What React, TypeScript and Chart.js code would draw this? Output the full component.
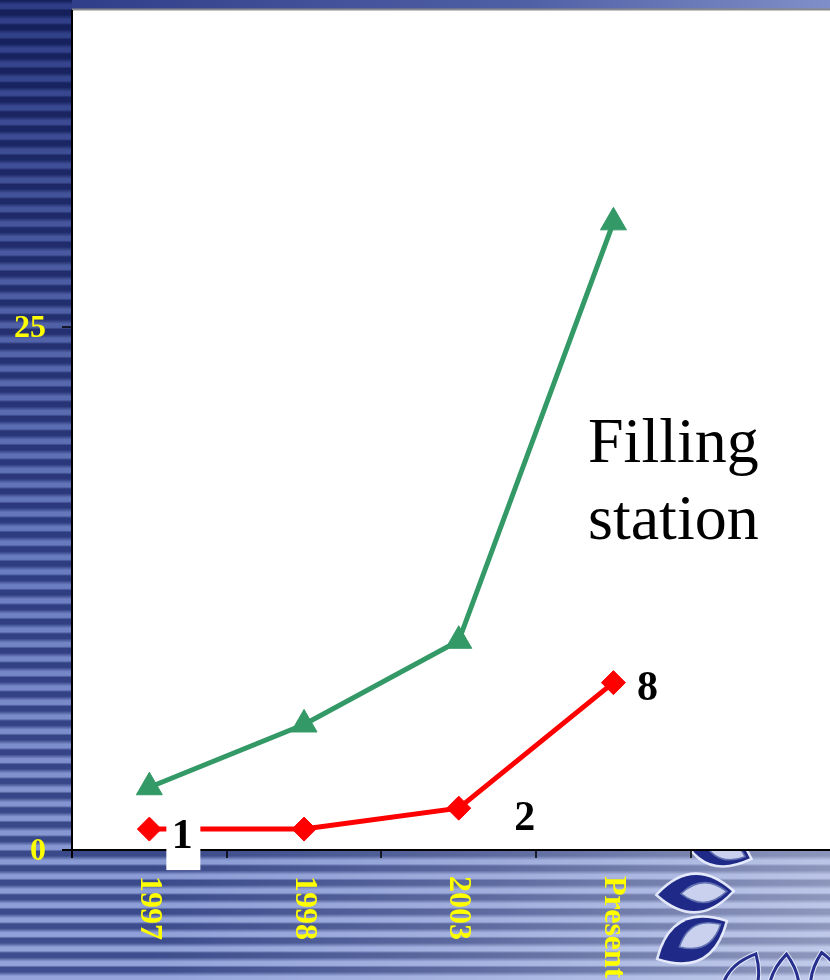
import React, { useEffect, useRef } from "react";
import { Chart, registerables } from "chart.js";

Chart.register(...registerables);

const categories = ["1997", "1998", "2003", "Present"];
const greenValues = [3, 6, 10, 30];
const redValues = [1, 1, 2, 8];
const redLabels = ["1", "", "2", "8"];
const yTicks = [0, 25];
const noteLines = ["Filling", "station"];

type RGB = [number, number, number];
const darkStops: [number, RGB][] = [
  [0, [20, 31, 90]],
  [560, [46, 60, 128]],
  [980, [62, 78, 142]],
];
const lightStops: [number, RGB][] = [
  [0, [46, 61, 134]],
  [560, [106, 124, 192]],
  [980, [150, 166, 220]],
];
function interp(stops: [number, RGB][], y: number): string {
  let a = stops[0];
  let b = stops[stops.length - 1];
  for (let i = 0; i < stops.length - 1; i++) {
    if (y >= stops[i][0] && y <= stops[i + 1][0]) {
      a = stops[i];
      b = stops[i + 1];
      break;
    }
  }
  const t = b[0] === a[0] ? 0 : Math.min(1, Math.max(0, (y - a[0]) / (b[0] - a[0])));
  const c = a[1].map((v, k) => Math.round(v + (b[1][k] - v) * t));
  return `rgb(${c[0]},${c[1]},${c[2]})`;
}

function lensPath(ctx: CanvasRenderingContext2D, w: number, h: number) {
  ctx.beginPath();
  ctx.moveTo(-w / 2, 0);
  ctx.quadraticCurveTo(0, -h, w / 2, 0);
  ctx.quadraticCurveTo(0, h, -w / 2, 0);
  ctx.closePath();
}

function drawEye(ctx: CanvasRenderingContext2D, cx: number, cy: number, w: number, h: number, ang: number, filled: boolean) {
  ctx.save();
  ctx.translate(cx, cy);
  ctx.rotate(ang);
  lensPath(ctx, w, h);
  ctx.lineWidth = 5;
  ctx.strokeStyle = "rgba(235,240,255,0.9)";
  ctx.stroke();
  if (filled) {
    ctx.fillStyle = "#1f2a88";
    ctx.fill();
    ctx.translate(w * 0.12, 0);
    lensPath(ctx, w * 0.62, h * 0.55);
    ctx.fillStyle = "#c9d1ee";
    ctx.fill();
    ctx.lineWidth = 1.5;
    ctx.strokeStyle = "#6070b0";
    ctx.stroke();
  } else {
    ctx.lineWidth = 3;
    ctx.strokeStyle = "#26308c";
    ctx.stroke();
  }
  ctx.restore();
}

const decorPlugin = {
  id: "decor",
  beforeDraw(chart: any) {
    const ctx: CanvasRenderingContext2D = chart.ctx;
    const W = chart.width;
    const H = chart.height;
    const area = chart.chartArea;
    ctx.save();
    const period = 14.5;
    for (let y0 = -4; y0 < H; y0 += period) {
      const g = ctx.createLinearGradient(0, y0, 0, y0 + period);
      const d = interp(darkStops, y0 + period / 2);
      const l = interp(lightStops, y0 + period / 2);
      g.addColorStop(0, d);
      g.addColorStop(0.3, d);
      g.addColorStop(0.6, l);
      g.addColorStop(0.85, l);
      g.addColorStop(1, d);
      ctx.fillStyle = g;
      ctx.fillRect(0, y0, W, period + 0.5);
    }
    // brighten bottom right
    const hg = ctx.createLinearGradient(150, 0, W, 0);
    hg.addColorStop(0, "rgba(255,255,255,0)");
    hg.addColorStop(0.5, "rgba(255,255,255,0.18)");
    hg.addColorStop(1, "rgba(255,255,255,0.42)");
    ctx.fillStyle = hg;
    ctx.fillRect(150, area.bottom, W - 150, H - area.bottom);
    // top band
    const tg = ctx.createLinearGradient(area.left, 0, W, 0);
    tg.addColorStop(0, "rgb(48,62,138)");
    tg.addColorStop(0.6, "rgb(80,96,165)");
    tg.addColorStop(1, "rgb(128,142,200)");
    ctx.fillStyle = tg;
    ctx.fillRect(area.left, 0, W - area.left, area.top);
    // eyes
    drawEye(ctx, 716, 846, 72, 36, 0.35, true);
    drawEye(ctx, 695, 893, 74, 36, -0.05, true);
    drawEye(ctx, 692, 940, 76, 40, -0.5, true);
    drawEye(ctx, 740, 985, 70, 32, -1.1, false);
    drawEye(ctx, 784, 990, 72, 30, -1.5, false);
    drawEye(ctx, 828, 988, 72, 34, -1.75, false);
    // plot area
    ctx.fillStyle = "#ffffff";
    ctx.fillRect(area.left, area.top, area.right - area.left, area.bottom - area.top);
    ctx.fillStyle = "#8a8a8a";
    ctx.fillRect(area.left, area.top - 1.5, area.right - area.left, 2);
    ctx.restore();
  },
  afterDatasetsDraw(chart: any) {
    const ctx: CanvasRenderingContext2D = chart.ctx;
    const area = chart.chartArea;
    const xs = chart.scales.x;
    const ys = chart.scales.y;
    ctx.save();
    // axes
    ctx.strokeStyle = "#000000";
    ctx.lineWidth = 2;
    ctx.beginPath();
    ctx.moveTo(area.left - 10, area.bottom);
    ctx.lineTo(area.right, area.bottom);
    ctx.moveTo(area.left, area.top);
    ctx.lineTo(area.left, area.bottom + 8);
    ctx.stroke();
    ctx.lineWidth = 1.5;
    ctx.beginPath();
    for (let i = 0; i <= categories.length; i++) {
      const px = Math.round(xs.getPixelForValue(i - 0.5));
      if (px > area.left + 2 && px <= area.right) {
        ctx.moveTo(px, area.bottom);
        ctx.lineTo(px, area.bottom + 8);
      }
    }
    yTicks.forEach((v) => {
      const py = ys.getPixelForValue(v);
      ctx.moveTo(area.left - 10, py);
      ctx.lineTo(area.left, py);
    });
    ctx.stroke();
    // y labels
    ctx.fillStyle = "#ffff00";
    ctx.font = "bold 32px 'Liberation Serif'";
    ctx.textAlign = "right";
    ctx.textBaseline = "middle";
    yTicks.forEach((v) => {
      const py = ys.getPixelForValue(v);
      ctx.fillText(String(v), area.left - 26, py + 2);
    });
    // x labels rotated clockwise
    ctx.textAlign = "left";
    categories.forEach((c, i) => {
      const px = xs.getPixelForValue(i);
      ctx.save();
      ctx.translate(px, area.bottom + 26);
      ctx.rotate(Math.PI / 2);
      ctx.fillText(c, 0, 0);
      ctx.restore();
    });
    // data labels on red series
    const meta = chart.getDatasetMeta(1);
    const offsets = [
      [33, 19],
      [33, 19],
      [66, 22],
      [34, 17],
    ];
    ctx.font = "bold 42px 'Liberation Serif'";
    ctx.textAlign = "center";
    ctx.textBaseline = "alphabetic";
    redLabels.forEach((lab, i) => {
      if (!lab) return;
      const pt = meta.data[i];
      const cx = pt.x + offsets[i][0];
      const by = pt.y + offsets[i][1];
      if (i === 0) {
        ctx.fillStyle = "#ffffff";
        ctx.fillRect(cx - 16, by - 34, 34, 56);
      }
      ctx.fillStyle = "#000000";
      ctx.fillText(lab, cx, by);
    });
    // note
    ctx.font = "64px 'Liberation Serif'";
    ctx.textAlign = "left";
    ctx.fillStyle = "#000000";
    noteLines.forEach((t, i) => {
      ctx.fillText(t, 588, 462 + i * 77);
    });
    ctx.restore();
  },
};

export default function App() {
  const ref = useRef<HTMLCanvasElement | null>(null);
  useEffect(() => {
    document.body.style.margin = "0";
    if (!ref.current) return;
    const chart = new Chart(ref.current, {
      type: "line",
      data: {
        datasets: [
          {
            data: categories.map((_, i) => ({ x: i, y: greenValues[i] })),
            borderColor: "#339966",
            backgroundColor: "#339966",
            borderWidth: 5,
            pointStyle: "triangle",
            pointRadius: 15,
            pointBackgroundColor: "#339966",
            pointBorderColor: "#339966",
            pointBorderWidth: 1,
            tension: 0,
          },
          {
            data: categories.map((_, i) => ({ x: i, y: redValues[i] })),
            borderColor: "#ff0000",
            backgroundColor: "#ff0000",
            borderWidth: 5,
            pointStyle: "rectRot",
            pointRadius: 12,
            pointBackgroundColor: "#ff0000",
            pointBorderColor: "#ff0000",
            pointBorderWidth: 1,
            tension: 0,
          },
        ],
      },
      options: {
        animation: false,
        responsive: false,
        maintainAspectRatio: false,
        layout: { autoPadding: false, padding: { top: 10, left: 0, right: 0, bottom: 0 } },
        plugins: { legend: { display: false }, tooltip: { enabled: false } },
        scales: {
          x: {
            type: "linear",
            min: -0.5,
            max: 4.4,
            grid: { display: false },
            border: { display: false },
            ticks: { display: false },
            afterFit: (s: any) => {
              s.height = 130;
            },
          },
          y: {
            min: 0,
            max: 40.15,
            grid: { display: false },
            border: { display: false },
            ticks: { display: false },
            afterFit: (s: any) => {
              s.width = 72;
            },
          },
        },
      },
      plugins: [decorPlugin],
    } as any);
    return () => chart.destroy();
  }, []);
  return (
    <div style={{ width: 830, height: 980, overflow: "hidden" }}>
      <canvas ref={ref} width={830} height={980} style={{ display: "block" }} />
    </div>
  );
}
